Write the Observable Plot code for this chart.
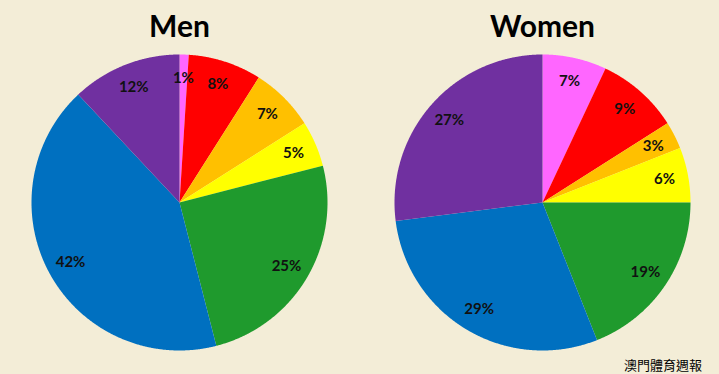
<!DOCTYPE html>
<html><head><meta charset="utf-8">
<script src="https://cdn.jsdelivr.net/npm/d3@7"></script>
<script src="https://cdn.jsdelivr.net/npm/@observablehq/plot@0.6"></script>
<style>
html,body{margin:0;padding:0;background:#f3edd7;}
#chart{width:719px;height:374px;position:relative;overflow:hidden;}
#chart svg{display:block;}
#caption{position:absolute;right:17px;top:355px;font:13px "Noto Sans CJK TC";color:#000;white-space:nowrap;}
</style></head><body><div id="chart"><div id="caption">澳門體育週報</div></div>
<script>
const groups = ["Men", "Women"];
const categories = ["pink", "red", "orange", "yellow", "green", "blue", "purple"];
const colors = ["#ff66ff", "#ff0000", "#ffc000", "#ffff00", "#1f9a2d", "#0070c0", "#7030a0"];
const menValues = [1, 8, 7, 5, 25, 42, 12];
const womenValues = [7, 9, 3, 6, 19, 29, 27];
const seriesValues = {Men: menValues, Women: womenValues};

const labelRadius = 0.84;
const polys = [];
const labels = [];
const pie = d3.pie().sort(null).value(d => d.value).startAngle(0).endAngle(2 * Math.PI);
for (const g of groups) {
  const rows = categories.map((c, i) => ({group: g, category: c, color: colors[i], value: seriesValues[g][i]}));
  for (const a of pie(rows)) {
    const key = g + "-" + a.data.category;
    polys.push({group: g, key, color: a.data.color, x: 0, y: 0});
    const n = Math.max(2, Math.ceil((a.endAngle - a.startAngle) / 0.005));
    for (let k = 0; k <= n; k++) {
      const t = a.startAngle + (a.endAngle - a.startAngle) * k / n;
      polys.push({group: g, key, color: a.data.color, x: Math.sin(t), y: Math.cos(t)});
    }
    const m = (a.startAngle + a.endAngle) / 2;
    labels.push({group: g, x: labelRadius * Math.sin(m), y: labelRadius * Math.cos(m), text: a.data.value + "%"});
  }
}

const chart = Plot.plot({
  width: 719,
  height: 352,
  marginLeft: 31,
  marginRight: 29,
  marginTop: 54,
  marginBottom: 2,
  x: {domain: [-1, 1], axis: null},
  y: {domain: [-1, 1], axis: null},
  fx: {domain: groups, padding: 0.1846, label: null},
  style: {background: "transparent", fontFamily: "Lato, 'Open Sans', sans-serif"},
  marks: [
    Plot.line(polys, {fx: "group", x: "x", y: "y", z: "key", fill: "color", stroke: "none", curve: "linear-closed"}),
    Plot.text(labels, {fx: "group", x: "x", y: "y", text: "text", fontWeight: "bold", fontSize: 15, fill: "#111"}),
    Plot.axisFx({anchor: "top", tickSize: 0, tickPadding: 18, fontSize: 30, fontWeight: "bold", fill: "#000", label: null})
  ]
});
document.getElementById("chart").prepend(chart);
</script>
</body></html>
